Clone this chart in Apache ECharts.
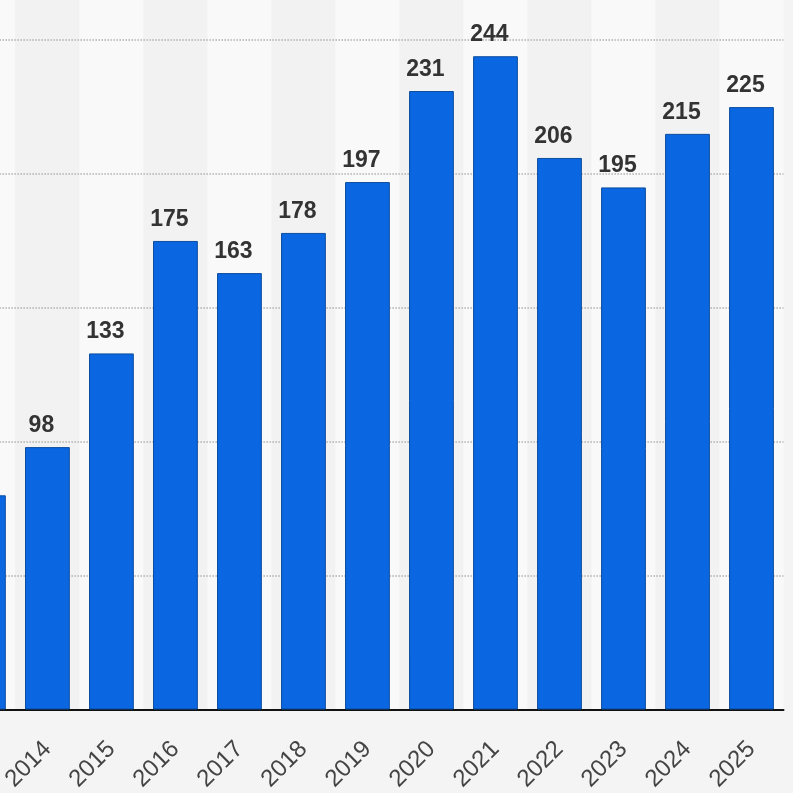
<!DOCTYPE html>
<html>
<head>
<meta charset="utf-8">
<script src="https://cdn.jsdelivr.net/npm/echarts@6/dist/echarts.min.js"></script>
<style>
  html, body { margin: 0; padding: 0; background: #f4f4f4; overflow: hidden; }
  /* the reference is cropped on the left: widen the canvas and shift it out of view */
  #chart { width: 842px; height: 793px; margin-left: -49px; }
</style>
</head>
<body>
<div id="chart"></div>
<script>
const years = ['2013', '2014', '2015', '2016', '2017', '2018', '2019', '2020', '2021', '2022', '2023', '2024', '2025'];
const values = [80, 98, 133, 175, 163, 178, 197, 231, 244, 206, 195, 215, 225];

const chart = echarts.init(document.getElementById('chart'));

const option = {
  backgroundColor: '#f4f4f4',
  animation: false,
  grid: {
    left: 0.4,
    right: 9.5,
    top: 0,
    bottom: 83.5,
    containLabel: false,
    outerBoundsMode: 'none'
  },
  xAxis: {
    type: 'category',
    data: years,
    z: 0,
    axisLine: { show: true, lineStyle: { color: '#111', width: 2 } },
    axisTick: { show: false },
    axisLabel: {
      rotate: 45,
      margin: 36,
      fontSize: 24,
      color: '#444',
      fontFamily: 'Liberation Sans, Arial, sans-serif'
    },
    splitArea: {
      show: true,
      areaStyle: { color: ['#f9f9f9', '#f2f2f2'] }
    }
  },
  yAxis: {
    type: 'value',
    min: 0,
    max: 265,
    interval: 50,
    z: 1,
    axisLabel: { show: false },
    axisLine: { show: false },
    axisTick: { show: false },
    splitLine: {
      show: true,
      showMinLine: false,
      showMaxLine: false,
      lineStyle: { color: '#b0b0b0', type: 'dotted', width: 1.5 }
    }
  },
  series: [
    {
      type: 'bar',
      data: values,
      barWidth: '70%',
      z: 3,
      itemStyle: {
        color: '#0a66e1',
        borderColor: '#0c4d9e',
        borderWidth: 1
      },
      label: {
        show: true,
        position: 'top',
        distance: 10,
        offset: [-6, 0],
        fontSize: 23,
        fontWeight: 'bold',
        color: '#333',
        fontFamily: 'Liberation Sans, Arial, sans-serif'
      }
    }
  ]
};

chart.setOption(option);
</script>
</body>
</html>
